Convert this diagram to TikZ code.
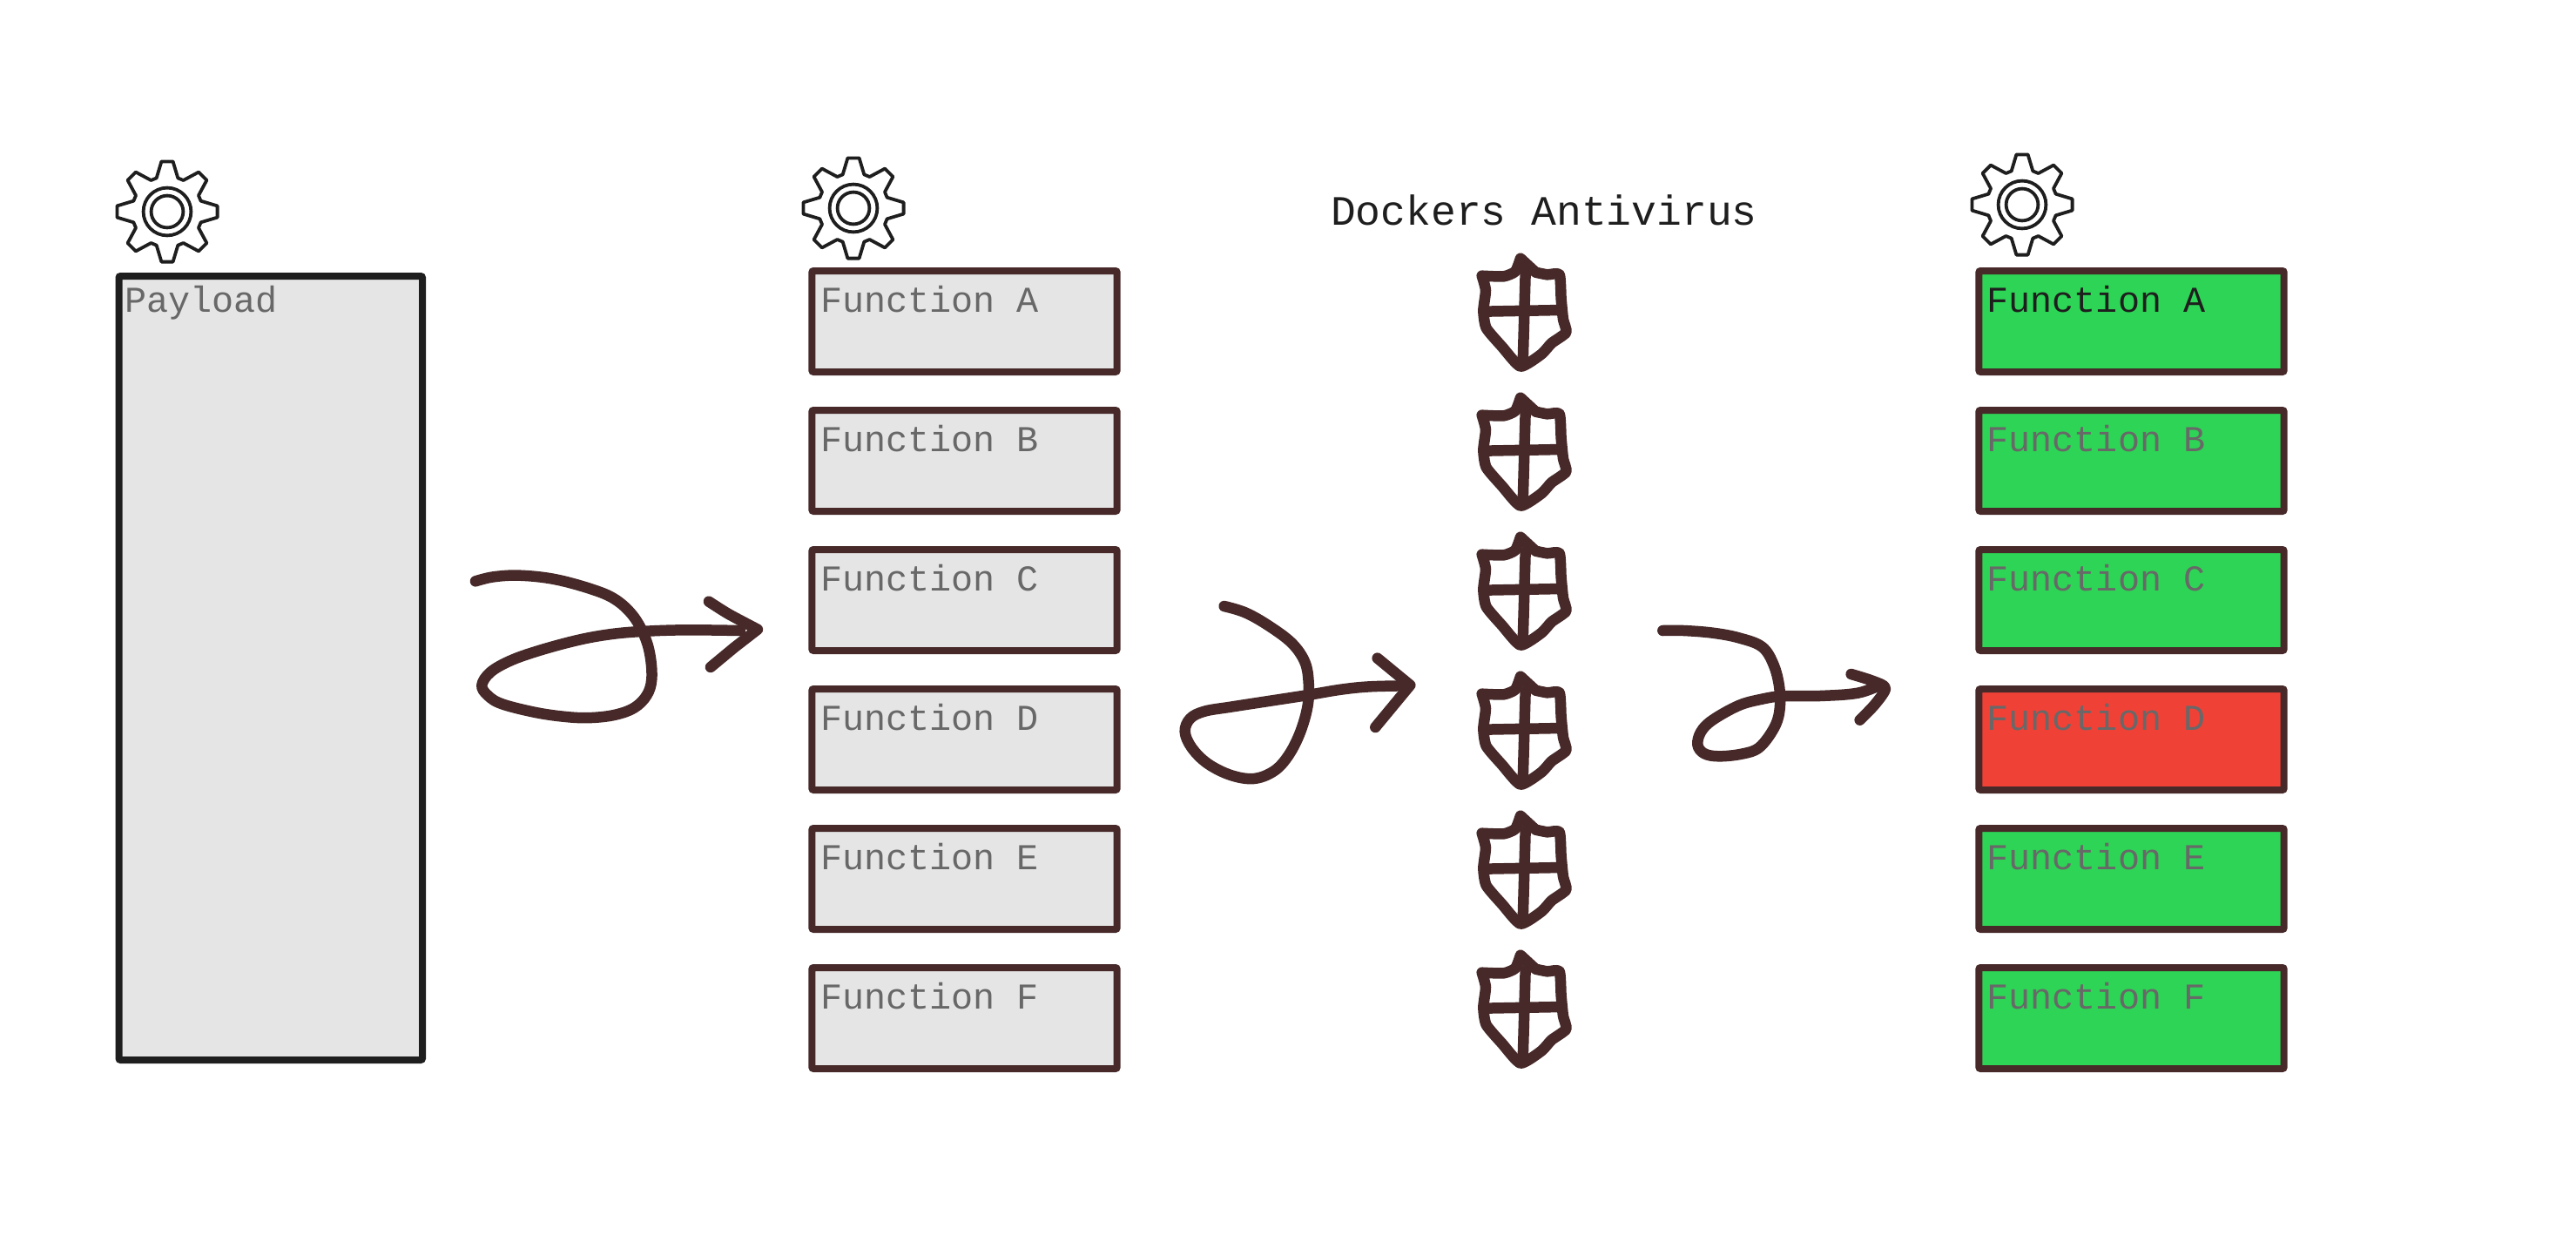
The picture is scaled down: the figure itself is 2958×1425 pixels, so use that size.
\documentclass[tikz,border=0pt]{standalone}
\usepackage{fontspec}
\setmonofont{Liberation Mono}
\definecolor{ink}{HTML}{472929}
\definecolor{coal}{HTML}{1E1E1E}
\definecolor{paper}{HTML}{E5E5E5}
\definecolor{okgreen}{HTML}{2DD455}
\definecolor{badred}{HTML}{F04137}
\definecolor{dimtext}{HTML}{686868}
\newcommand{\gearpath}{}
\foreach \a in {0,-45,...,-315}{
  \xdef\gearpath{\gearpath -- ([rotate=\a]-12.3,-38.6) -- ([rotate=\a]-6.6,-57.6) -- ([rotate=\a]6.6,-57.6) -- ([rotate=\a]12.3,-38.6)}
}
\tikzset{
  box/.style={draw=ink,line width=8pt,rounded corners=2pt,minimum width=350.4pt,minimum height=116pt,inner sep=0pt,outer sep=0pt,fill=#1},
  lbl/.style={anchor=base west,inner sep=0pt,outer sep=0pt,font=\ttfamily\fontsize{41.8}{50}\selectfont,text=dimtext},
  ink stroke/.style={draw=ink,line width=12.5pt,line cap=round,line join=round},
  shield stroke/.style={draw=ink,line width=12.5pt,line cap=round,line join=round},
  gearline/.style={draw=coal,line width=3.8pt,line join=round},
  pics/gear/.style={code={
    \draw[gearline] (-12.3,-38.6) \gearpath -- cycle;
    \draw[gearline] (0,0) circle[radius=27.4];
    \draw[gearline] (0,0) circle[radius=18.4];
  }},
  pics/shieldmark/.style={code={
    \begin{scope}[x=0.3333pt,y=-0.3333pt]
      \draw[shield stroke] plot[smooth,tension=0.35] coordinates {(125,140)(200,142)(240,125)(258,80)}
        -- (310,128) -- plot[smooth,tension=0.35] coordinates {(310,128)(350,136)(392,136)(398,220)(405,290)(415,335)(365,372)(330,410)(258,452)(195,385)(140,320)(130,260)(138,190)(125,140)};
      \draw[shield stroke] (132,263) -- (400,258);
      \draw[shield stroke] (275,130) -- (266,445);
    \end{scope}
  }}
}
\begin{document}
\begin{tikzpicture}[x=1pt,y=-1pt]
\useasboundingbox (0,0) rectangle (2958,1425);
\fill[white] (0,0) rectangle (2958,1425);

% gears
\pic at (192,243) {gear};
\pic at (980,239) {gear};
\pic at (2322,235) {gear};

% payload
\node[box=paper,draw=coal,minimum width=348.5pt,minimum height=900pt] (payload) at (310.75,767) {};
\node[lbl] (payloadtext) at (143,358.5) {Payload};

% function columns
\foreach \n/\i in {A/0,B/1,C/2,D/3,E/4,F/5}{
  \node[box=paper] (mid\n) at (1107.5,{369+160*\i}) {};
  \node[lbl] (midtext\n) at (942,{358.5+160*\i}) {Function \n};
}
\foreach \n/\i/\c in {B/1/okgreen,C/2/okgreen,D/3/badred,E/4/okgreen,F/5/okgreen}{
  \node[box=\c] (res\n) at (2447.5,{369+160*\i}) {};
  \node[lbl] (restext\n) at (2281.5,{358.5+160*\i}) {Function \n};
}
\node[box=okgreen] (resA) at (2447.5,369) {};
\node[lbl,text=coal] (restextA) at (2281.5,358.5) {Function A};

% title
\node[lbl,text=coal,font=\ttfamily\fontsize{48}{56}\selectfont] (title) at (1528,258) {Dockers Antivirus};

% shields
\foreach \i in {0,...,5}{
  \pic at (1660,{270+160*\i}) {shieldmark};
}

% arrows
\begin{scope}[shift={(520,630)},x=0.3333pt,y=-0.3333pt]
  \draw[ink stroke] plot[smooth,tension=0.6] coordinates {(78,112)(140,97)(230,92)(350,105)(480,140)(560,175)(620,230)(660,300)(680,370)(685,450)(668,505)(625,548)(560,572)(480,582)(400,580)(290,565)(170,535)(120,505)(100,470)(130,425)(200,385)(300,350)(430,315)(540,295)(650,285)(800,280)(990,282)};
  \draw[ink stroke] plot[smooth,tension=0.4] coordinates {(882,182)(950,225)(1050,278)} -- (970,340) -- (888,408);
\end{scope}
\begin{scope}[shift={(1340,670)},x=0.3333pt,y=-0.3333pt]
  \draw[ink stroke] plot[smooth,tension=0.6] coordinates {(197,78)(270,100)(350,145)(430,205)(475,270)(488,340)(485,420)(460,510)(420,590)(370,645)(300,672)(220,660)(140,620)(85,565)(62,510)(80,465)(130,440)(220,425)(350,405)(480,385)(600,365)(700,355)(830,352)};
  \draw[ink stroke] (725,257) -- (838,350) -- (718,495);
\end{scope}
\begin{scope}[shift={(1890,700)},x=0.3333pt,y=-0.3333pt]
  \draw[ink stroke] plot[smooth,tension=0.6] coordinates {(58,72)(130,72)(230,80)(320,97)(400,128)(440,190)(460,270)(460,350)(440,410)(390,475)(330,497)(250,505)(200,495)(178,465)(190,420)(230,380)(320,330)(400,308)(470,298)(600,297)(730,287)(810,258)};
  \draw[ink stroke] plot[smooth,tension=0.5] coordinates {(707,222)(780,245)(825,270)(790,325)(737,380)};
\end{scope}
\end{tikzpicture}
\end{document}
